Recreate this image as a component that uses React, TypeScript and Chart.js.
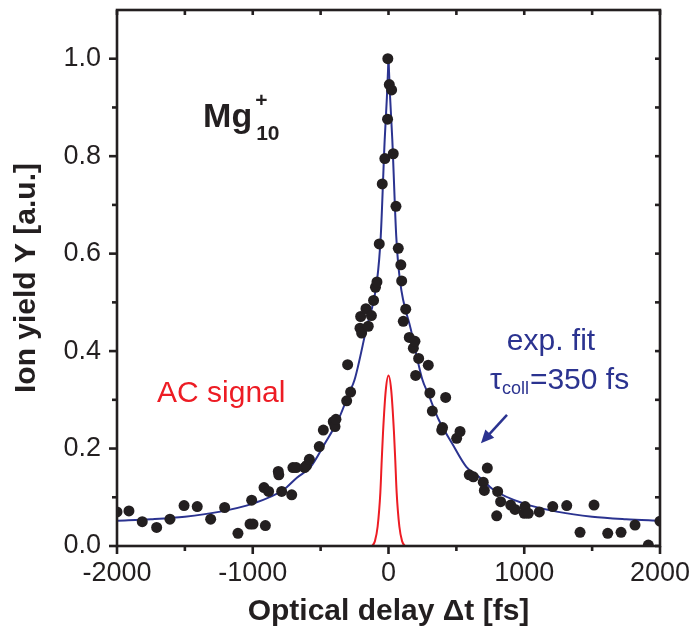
import { useEffect, useRef } from 'react';
import { Chart, registerables } from 'chart.js';

Chart.register(...registerables);

const FONT = '"Liberation Sans", Arial, Helvetica, sans-serif';
const INK = '#231f20';
const NAVY = '#2b3390';
const RED = '#ed1c24';

// axis ranges and tick labels
const X_MIN = -2000;
const X_MAX = 2000;
const Y_MIN = 0;
const Y_MAX = 1.1;
const xTickValues = [-2000, -1000, 0, 1000, 2000];
const xMinorTicks = [-1500, -500, 500, 1500];
const yTickValues = [0, 0.2, 0.4, 0.6, 0.8, 1.0];
const yMinorTicks = [0.1, 0.3, 0.5, 0.7, 0.9];

// measured ion yield (black dots)
const dataX = [
  -2000, -1912, -1814, -1708, -1610, -1506, -1409, -1310, -1207, -1109,
  -1020, -1008, -998, -917, -907, -883, -812, -808, -787, -713,
  -704, -680, -618, -604, -583, -510, -480, -407, -394, -387,
  -308, -301, -279, -210, -205, -198, -166, -149, -126, -110,
  -96, -85, -68, -46, -27, -7, -5,
  6, 23, 35, 55, 72, 91, 97, 109, 127, 153,
  183, 195, 200, 222, 293, 305, 323, 392, 398, 421,
  502, 527, 595, 625, 698, 706, 728, 797, 804, 826,
  900, 932, 1000, 1006, 1030, 1111, 1210, 1313, 1411, 1514,
  1615, 1713, 1816, 1914, 2000,
];
const dataY = [
  0.070, 0.072, 0.050, 0.038, 0.055, 0.083, 0.081, 0.055, 0.079, 0.026,
  0.045, 0.094, 0.045, 0.120, 0.042, 0.112, 0.153, 0.146, 0.112, 0.105,
  0.161, 0.161, 0.161, 0.165, 0.178, 0.204, 0.238, 0.255, 0.245, 0.260,
  0.298, 0.372, 0.316, 0.447, 0.471, 0.437, 0.487, 0.451, 0.473, 0.504,
  0.531, 0.542, 0.620, 0.743, 0.795, 0.876, 1.000,
  0.947, 0.936, 0.805, 0.697, 0.611, 0.577, 0.544, 0.461, 0.486, 0.428,
  0.406, 0.420, 0.350, 0.385, 0.371, 0.314, 0.277, 0.238, 0.243, 0.305,
  0.221, 0.235, 0.146, 0.142, 0.131, 0.114, 0.160, 0.062, 0.112, 0.091,
  0.084, 0.075, 0.067, 0.081, 0.067, 0.070, 0.081, 0.083, 0.028, 0.084,
  0.026, 0.028, 0.043, 0.002, 0.051,
];

// exponential fit curve
const fitX = [
  -2000, -1750, -1500, -1250, -1000, -775, -675, -575, -470, -370,
  -290, -250, -165, -84, -57, -28, -12, 0,
  12, 28, 57, 84, 165, 250, 290, 370, 470, 575,
  675, 775, 1000, 1250, 1500, 1750, 2000,
];
const fitY = [
  0.052, 0.055, 0.060, 0.070, 0.087, 0.115, 0.140, 0.162, 0.210, 0.259,
  0.314, 0.341, 0.444, 0.546, 0.636, 0.834, 0.920, 1.000,
  0.920, 0.834, 0.636, 0.546, 0.444, 0.341, 0.314, 0.259, 0.210, 0.162,
  0.140, 0.115, 0.087, 0.070, 0.060, 0.055, 0.052,
];

// autocorrelation signal (red)
const acX = [-120, -100, -80, -60, -50, -40, -20, 0, 20, 40, 50, 60, 80, 100, 120];
const acY = [0, 0.01, 0.04, 0.11, 0.175, 0.235, 0.32, 0.35, 0.32, 0.235, 0.175, 0.11, 0.04, 0.01, 0];

// annotation anchors in data coordinates
const mgAt = [-1366, 0.86];
const acLabelAt = [-1705, 0.296];
const expFitAt = [1197, 0.402];
const tauAt = [748, 0.322];
const arrowFrom = [873, 0.269];
const arrowTo = [681, 0.211];

const pts = (xs: number[], ys: number[], keep: (x: number) => boolean = () => true) =>
  xs.map((x, i) => ({ x, y: ys[i] })).filter((p) => keep(p.x));

const framePlugin = {
  id: 'frame',
  afterDatasetsDraw(chart: any) {
    const { ctx, chartArea: a, scales } = chart;
    const xs = scales.x;
    const ys = scales.y;
    ctx.save();
    ctx.strokeStyle = INK;
    ctx.lineWidth = 2.6;
    ctx.lineCap = 'butt';
    const tick = (x1: number, y1: number, x2: number, y2: number) => {
      ctx.beginPath();
      ctx.moveTo(x1, y1);
      ctx.lineTo(x2, y2);
      ctx.stroke();
    };
    // left axis, outward
    yTickValues.forEach((v) => { const p = ys.getPixelForValue(v); tick(a.left, p, a.left - 8, p); });
    yMinorTicks.forEach((v) => { const p = ys.getPixelForValue(v); tick(a.left, p, a.left - 5, p); });
    // bottom axis, outward
    xTickValues.forEach((v) => { const p = xs.getPixelForValue(v); tick(p, a.bottom, p, a.bottom + 8); });
    xMinorTicks.forEach((v) => { const p = xs.getPixelForValue(v); tick(p, a.bottom, p, a.bottom + 5); });
    // right axis, inward
    [...yTickValues, ...yMinorTicks].forEach((v) => { const p = ys.getPixelForValue(v); tick(a.right, p, a.right - 5, p); });
    // top axis, inward
    [...xTickValues, ...xMinorTicks].forEach((v) => { const p = xs.getPixelForValue(v); tick(p, a.top, p, a.top + 5); });
    ctx.lineJoin = 'miter';
    ctx.strokeRect(a.left, a.top, a.right - a.left, a.bottom - a.top);
    ctx.restore();
  },
};

const annotationPlugin = {
  id: 'annotations',
  afterDraw(chart: any) {
    const { ctx, scales } = chart;
    const px = (v: number) => scales.x.getPixelForValue(v);
    const py = (v: number) => scales.y.getPixelForValue(v);
    ctx.save();
    ctx.textBaseline = 'alphabetic';
    ctx.textAlign = 'left';

    // Mg10+
    let x = px(mgAt[0]);
    let y = py(mgAt[1]);
    ctx.fillStyle = INK;
    ctx.font = `bold 34px ${FONT}`;
    ctx.fillText('Mg', x, y);
    const mgW = ctx.measureText('Mg').width;
    ctx.font = `bold 21px ${FONT}`;
    ctx.fillText('+', x + mgW + 3, y - 20);
    ctx.fillText('10', x + mgW + 4, y + 13);

    // AC signal
    ctx.fillStyle = RED;
    ctx.font = `30px ${FONT}`;
    ctx.fillText('AC signal', px(acLabelAt[0]), py(acLabelAt[1]));

    // exp. fit
    ctx.fillStyle = NAVY;
    ctx.textAlign = 'center';
    ctx.fillText('exp. fit', px(expFitAt[0]), py(expFitAt[1]));

    // tau_coll = 350 fs
    ctx.textAlign = 'left';
    x = px(tauAt[0]);
    y = py(tauAt[1]);
    ctx.font = `30px ${FONT}`;
    ctx.fillText('τ', x, y);
    x += ctx.measureText('τ').width;
    ctx.font = `18px ${FONT}`;
    ctx.fillText('coll', x, y + 5);
    x += ctx.measureText('coll').width + 1;
    ctx.font = `30px ${FONT}`;
    ctx.fillText('=350 fs', x, y);

    // arrow
    const x1 = px(arrowFrom[0]);
    const y1 = py(arrowFrom[1]);
    const x2 = px(arrowTo[0]);
    const y2 = py(arrowTo[1]);
    const ang = Math.atan2(y2 - y1, x2 - x1);
    const head = 13;
    const half = 6;
    ctx.strokeStyle = NAVY;
    ctx.lineWidth = 2.5;
    ctx.beginPath();
    ctx.moveTo(x1, y1);
    ctx.lineTo(x2 - Math.cos(ang) * head * 0.8, y2 - Math.sin(ang) * head * 0.8);
    ctx.stroke();
    ctx.beginPath();
    ctx.moveTo(x2, y2);
    ctx.lineTo(x2 - Math.cos(ang) * head - Math.sin(ang) * half, y2 - Math.sin(ang) * head + Math.cos(ang) * half);
    ctx.lineTo(x2 - Math.cos(ang) * head + Math.sin(ang) * half, y2 - Math.sin(ang) * head - Math.cos(ang) * half);
    ctx.closePath();
    ctx.fillStyle = NAVY;
    ctx.fill();
    ctx.restore();
  },
};

export default function App() {
  const ref = useRef<HTMLCanvasElement | null>(null);

  useEffect(() => {
    if (!ref.current) return;
    const lineDs = (data: any[], color: string) => ({
      type: 'line' as const,
      data,
      borderColor: color,
      borderWidth: 2,
      pointRadius: 0,
      pointHoverRadius: 0,
      fill: false,
      cubicInterpolationMode: 'monotone' as const,
      clip: 0,
    });
    const chart = new Chart(ref.current, {
      type: 'scatter',
      data: {
        datasets: [
          {
            type: 'scatter',
            data: pts(dataX, dataY),
            pointRadius: 5.5,
            pointHoverRadius: 5.5,
            pointBackgroundColor: INK,
            pointBorderWidth: 0,
            borderWidth: 0,
            clip: 0,
          } as any,
          lineDs(pts(acX, acY), RED),
          lineDs(pts(fitX, fitY, (v) => v <= 0), NAVY),
          lineDs(pts(fitX, fitY, (v) => v >= 0), NAVY),
        ],
      },
      options: {
        responsive: false,
        animation: false,
        events: [],
        layout: { padding: { left: 0, top: 10, right: 33, bottom: 0 } },
        plugins: { legend: { display: false }, tooltip: { enabled: false } },
        scales: {
          x: {
            type: 'linear',
            position: 'bottom',
            min: X_MIN,
            max: X_MAX,
            grid: { display: false, drawTicks: false },
            border: { display: false },
            afterBuildTicks: (s: any) => { s.ticks = xTickValues.map((value) => ({ value })); },
            afterFit: (s: any) => { s.height = 87; s.paddingLeft = 0; s.paddingRight = 0; },
            ticks: {
              autoSkip: false,
              maxRotation: 0,
              padding: 11,
              color: INK,
              font: { family: FONT, size: 27 },
              callback: (v: any) => String(v),
            },
            title: {
              display: true,
              text: 'Optical delay Δt [fs]',
              color: INK,
              font: { family: FONT, size: 30, weight: 'bold' },
              padding: { top: 0, bottom: 3 },
            },
          },
          y: {
            type: 'linear',
            position: 'left',
            min: Y_MIN,
            max: Y_MAX,
            grid: { display: false, drawTicks: false },
            border: { display: false },
            afterBuildTicks: (s: any) => { s.ticks = yTickValues.map((value) => ({ value })); },
            afterFit: (s: any) => { s.width = 117; s.paddingTop = 0; s.paddingBottom = 0; },
            ticks: {
              padding: 16,
              color: INK,
              font: { family: FONT, size: 27 },
              callback: (v: any) => Number(v).toFixed(1),
            },
            title: {
              display: true,
              text: 'Ion yield Y [a.u.]',
              color: INK,
              font: { family: FONT, size: 30, weight: 'bold' },
              padding: { top: 9, bottom: 0 },
            },
          },
        },
      } as any,
      plugins: [framePlugin, annotationPlugin],
    });
    return () => chart.destroy();
  }, []);

  return (
    <div style={{ position: 'absolute', left: 0, top: 0, width: 693, height: 633, background: '#fff' }}>
      <canvas ref={ref} width={693} height={633} style={{ display: 'block', width: 693, height: 633 }} />
    </div>
  );
}
